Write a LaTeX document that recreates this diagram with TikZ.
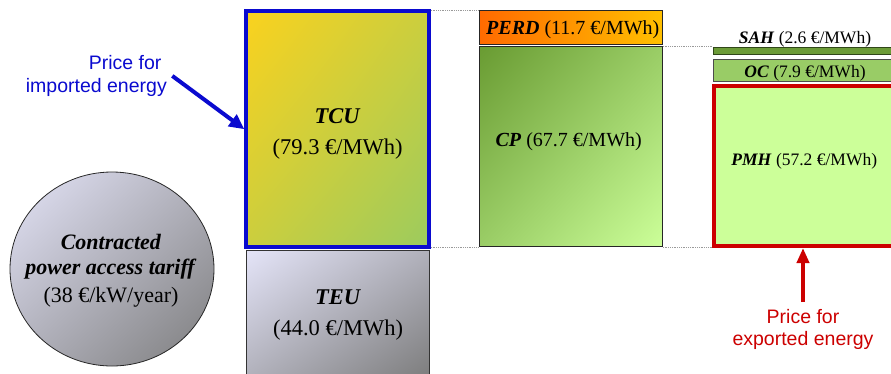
\documentclass[tikz,border=0pt]{standalone}
\usepackage{fontspec}
\setmainfont{Liberation Serif}
\newfontfamily\labsans{Liberation Sans}
\usetikzlibrary{arrows.meta,shapes.geometric,shadings}
\definecolor{impblue}{HTML}{0A0ACF}
\definecolor{expred}{HTML}{CC0000}
\definecolor{tcuA}{HTML}{FAD21E}
\definecolor{tcuB}{HTML}{9CCB5E}
\definecolor{tcuM}{HTML}{CBCE3E}
\definecolor{teuA}{HTML}{E4E4F8}
\definecolor{teuB}{HTML}{7C7C7C}
\definecolor{teuM}{HTML}{B0B0BA}
\definecolor{cpA}{HTML}{699B32}
\definecolor{cpB}{HTML}{CCFF99}
\definecolor{cpM}{HTML}{9ACD66}
\definecolor{perdA}{HTML}{FF6A00}
\definecolor{perdB}{HTML}{FFC000}
\definecolor{sahC}{HTML}{6B9B37}
\definecolor{ocC}{HTML}{99CC66}
\definecolor{pmhC}{HTML}{CCFF99}
\definecolor{dotgray}{HTML}{9A9A9A}
\newcommand\bival[1]{\textbf{\textit{#1}}}
\begin{document}
\begin{tikzpicture}[x=1pt,y=-1pt,
  barbox/.style={rectangle, draw=black!85, line width=1pt, inner sep=0pt},
  diag/.style n args={3}{shade, shading=bilinear interpolation, upper left=#1, lower right=#2, upper right=#3, lower left=#3},
  bigtext/.style={inner sep=0pt, align=center, font=\fontsize{22.5}{31.2}\selectfont},
  midtext/.style={inner sep=0pt, anchor=base, font=\fontsize{20}{24}\selectfont},
  smalltext/.style={inner sep=0pt, anchor=base, font=\fontsize{17.5}{21}\selectfont},
  sanslab/.style={font=\labsans\fontsize{19.5}{22.5}\selectfont},
  dotline/.style={draw=dotgray, line width=0.8pt, dash pattern=on 1pt off 0.8pt},
  bigarrow/.style={line width=4pt, -{Triangle[length=15pt,width=14pt]}}
]
\path[use as bounding box] (0,0) rectangle (891,373);
\begin{scope}
\clip (0,0) rectangle (891,373);

% left column
\node[ellipse, draw=black!85, line width=0.8pt, inner sep=0pt, diag={teuA}{teuB}{teuM},
      minimum width=204pt, minimum height=194pt] (cpat) at (112,269) {};
\node[inner sep=0pt, align=center, font=\fontsize{22}{25}\selectfont] (cpatT) at (111,271)
  {\bival{Contracted}\\\bival{power access tariff}\\[3pt](38 €/kW/year)};

\node[sanslab, text=impblue, align=right, inner xsep=5.3pt, inner ysep=3pt, anchor=east] (implab)
  at (172.3,75.9) {Price for\kern5.4pt\\imported energy};

% TEU and TCU
\node[barbox, draw=black!80, diag={teuA}{teuB}{teuM},
      minimum width=182.5pt, minimum height=129.3pt] (teu) at (337.75,315.35) {};
\node[bigtext] (teuT) at (338,315.4) {\bival{TEU}\\(44.0 €/MWh)};

\node[barbox, draw=impblue, line width=4pt, diag={tcuA}{tcuB}{tcuM},
      minimum width=182.4pt, minimum height=235.7pt] (tcu) at (337.5,129.2) {};
\node[bigtext] (tcuT) at (337.7,133.8) {\bival{TCU}\\(79.3 €/MWh)};

% PERD and CP
\node[barbox, shade, left color=perdA, right color=perdB,
      minimum width=183pt, minimum height=33.6pt] (perd) at (570.8,27.5) {};
\node[midtext] (perdT) at (572.8,34.5) {\bival{PERD} (11.7 €/MWh)};

\node[barbox, diag={cpA}{cpB}{cpM},
      minimum width=183pt, minimum height=200pt] (cp) at (570.8,146.7) {};
\node[midtext] (cpT) at (568.7,146) {\bival{CP} (67.7 €/MWh)};

% SAH, OC, PMH
\node[smalltext] (sahT) at (805,43.3) {\bival{SAH} (2.6 €/MWh)};
\node[barbox, fill=sahC, draw=black!55!sahC, minimum width=182.7pt, minimum height=6.6pt] (sah) at (804.65,51) {};
\node[barbox, fill=ocC, draw=black!70, minimum width=182.7pt, minimum height=22.7pt] (oc) at (804.65,70.35) {};
\node[smalltext] (ocT) at (805,77.3) {\bival{OC} (7.9 €/MWh)};

\node[barbox, fill=pmhC, draw=expred, line width=4pt,
      minimum width=182pt, minimum height=160pt] (pmh) at (805,166) {};
\node[smalltext] (pmhT) at (804.2,165.7) {\bival{PMH} (57.2 €/MWh)};

\node[sanslab, text=expred, align=center, inner xsep=2pt, inner ysep=7pt, anchor=north] (explab)
  at (803,302) {Price for\\exported energy};

% dotted guide lines
\draw[dotline] (perd.north west -| tcu.east) -- (perd.north west);
\draw[dotline] (cp.south west -| tcu.east) -- (cp.south west);
\draw[dotline] (cp.north east) -- (cp.north east -| sah.west);
\draw[dotline] (cp.south east) -- (cp.south east -| pmh.west);

% arrows
\draw[bigarrow, impblue] (implab.east) -- (tcu.west);
\draw[bigarrow, expred, -{Triangle[length=15pt,width=12pt]}] (explab.north) -- (explab.north |- pmh.south);
\end{scope}
\end{tikzpicture}
\end{document}
